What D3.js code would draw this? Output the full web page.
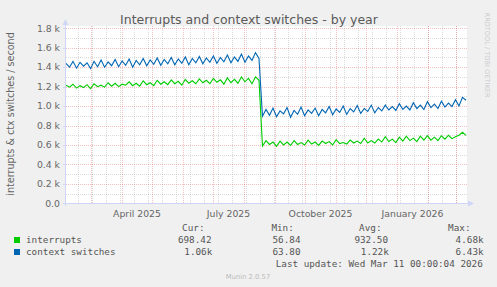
<!DOCTYPE html>
<html>
<head>
<meta charset="utf-8">
<script src="https://cdn.jsdelivr.net/npm/d3@7"></script>
<style>
  html, body { margin: 0; padding: 0; background: #f0f0f0; }
  svg { display: block; }
  text { font-family: "DejaVu Sans", sans-serif; }
  .mono { font-family: "DejaVu Sans Mono", monospace; }
</style>
</head>
<body>
<div id="vis"></div>
<script>
// time span of the year graph (400 days)
const startDate = new Date(Date.UTC(2025, 1, 4))
const endDate = new Date(Date.UTC(2026, 2, 11))

// samples, evenly spread over the span (about every 3.5 days)
const interrupts = [
  1215, 1195, 1225, 1185, 1210, 1190, 1220, 1180, 1230, 1200, 1215, 1195, 1240, 1205,
  1235, 1200, 1225, 1215, 1250, 1210, 1235, 1205, 1260, 1220, 1240, 1210, 1265, 1225,
  1250, 1220, 1270, 1230, 1255, 1215, 1275, 1235, 1260, 1230, 1280, 1240, 1265, 1230,
  1285, 1245, 1270, 1225, 1290, 1240, 1275, 1235, 1300, 1250, 1285, 1230, 1300, 1265,
  590, 645, 605, 630, 585, 640, 600, 630, 595, 645, 605, 625, 600, 650,
  610, 630, 595, 640, 615, 635, 600, 655, 615, 625, 610, 650, 620, 640,
  615, 670, 620, 645, 620, 660, 630, 685, 635, 660, 625, 680, 640, 690,
  645, 670, 635, 690, 650, 695, 650, 680, 645, 695, 660, 700, 665, 685, 700, 730, 698
]
const ctxSwitches = [
  1440, 1400, 1460, 1390, 1450, 1410, 1445, 1385, 1460, 1405, 1475, 1400, 1455, 1415,
  1480, 1405, 1465, 1420, 1485, 1400, 1470, 1425, 1490, 1415, 1475, 1430, 1495, 1420,
  1480, 1435, 1500, 1425, 1485, 1440, 1505, 1425, 1490, 1445, 1510, 1435, 1495, 1450,
  1515, 1440, 1500, 1455, 1525, 1445, 1505, 1460, 1535, 1450, 1515, 1470, 1550, 1490,
  895, 965, 905, 980, 890, 950, 920, 985, 885, 955, 915, 990, 900, 960,
  925, 980, 900, 965, 930, 995, 910, 970, 935, 1000, 915, 975, 940, 1005,
  925, 975, 945, 1010, 930, 985, 950, 1010, 960, 995, 955, 1025, 965, 1000,
  960, 1035, 975, 1010, 965, 1045, 985, 1020, 975, 1050, 990, 1030, 995, 1065, 1000, 1090, 1060
]

const yTicks = [0, 200, 400, 600, 800, 1000, 1200, 1400, 1600, 1800]
const yMinor = [100, 300, 500, 700, 900, 1100, 1300, 1500, 1700]
const xLabelMonths = [new Date(Date.UTC(2025, 3, 1)), new Date(Date.UTC(2025, 6, 1)),
                      new Date(Date.UTC(2025, 9, 1)), new Date(Date.UTC(2026, 0, 1))]
const xLabels = ['April 2025', 'July 2025', 'October 2025', 'January 2026']

const seriesNames = ['interrupts', 'context switches']
const seriesColors = ['#00cc00', '#0066b3']
const legendCur = ['698.42', '1.06k']
const legendMin = ['56.84', '63.80']
const legendAvg = ['932.50', '1.22k']
const legendMax = ['4.68k', '6.43k']

const W = 497, H = 287
const plot = {left: 66, right: 466, top: 26, bottom: 203}

const x = d3.scaleUtc([startDate, endDate], [plot.left, plot.right])
const y = d3.scaleLinear([0, 1800], [203.3, 28.3])

const svg = d3.select('#vis').append('svg')
    .attr('width', W)
    .attr('height', H)

svg.append('rect').attr('width', W).attr('height', H).attr('fill', '#f0f0f0')

// canvas
svg.append('rect')
    .attr('x', plot.left).attr('y', plot.top)
    .attr('width', plot.right - plot.left + 1).attr('height', plot.bottom - plot.top)
    .attr('fill', '#ffffff')

const px = v => Math.round(v) + 0.5

// minor grid
let grid = svg.append('g').attr('stroke-width', 1).attr('stroke-dasharray', '1,1')
grid.selectAll('.vmin')
    .data(d3.utcDay.range(new Date(Date.UTC(2025, 1, 16)), endDate, 14))
    .enter().append('line')
        .attr('x1', d => px(x(d))).attr('x2', d => px(x(d)))
        .attr('y1', plot.top).attr('y2', plot.bottom)
        .attr('stroke', '#8f8f8f').attr('stroke-opacity', 0.32)
grid.selectAll('.hmin')
    .data(yMinor)
    .enter().append('line')
        .attr('x1', plot.left).attr('x2', plot.right + 1)
        .attr('y1', d => px(y(d))).attr('y2', d => px(y(d)))
        .attr('stroke', '#8f8f8f').attr('stroke-opacity', 0.32)

// major grid
grid.selectAll('.vmaj')
    .data(d3.utcMonth.range(startDate, endDate))
    .enter().append('line')
        .attr('x1', d => px(x(d))).attr('x2', d => px(x(d)))
        .attr('y1', plot.top).attr('y2', plot.bottom)
        .attr('stroke', '#e85050').attr('stroke-opacity', 0.36)
grid.selectAll('.hmaj')
    .data(yTicks.slice(1))
    .enter().append('line')
        .attr('x1', plot.left).attr('x2', plot.right + 1)
        .attr('y1', d => px(y(d))).attr('y2', d => px(y(d)))
        .attr('stroke', '#e85050').attr('stroke-opacity', 0.36)

// series
const step = (endDate - startDate) / (interrupts.length - 1)
const line = d3.line()
    .x((d, i) => x(new Date(+startDate + i * step)))
    .y(d => y(d))

;[interrupts, ctxSwitches].forEach((s, k) => {
    svg.append('path')
        .datum(s)
        .attr('d', line)
        .attr('fill', 'none')
        .attr('stroke', seriesColors[k])
        .attr('stroke-width', 1.1)
})

// axes with arrows
const axisColor = '#cfd6f8'
svg.append('line')
    .attr('x1', plot.left - 0.5).attr('x2', plot.left - 0.5)
    .attr('y1', plot.bottom + 3).attr('y2', 22)
    .attr('stroke', axisColor)
svg.append('line')
    .attr('x1', plot.left - 3).attr('x2', 470)
    .attr('y1', plot.bottom + 0.5).attr('y2', plot.bottom + 0.5)
    .attr('stroke', axisColor)
svg.append('path')
    .attr('d', `M${plot.left - 3.5},25 L${plot.left - 0.5},19 L${plot.left + 2.5},25 Z`)
    .attr('fill', axisColor)
svg.append('path')
    .attr('d', `M468,${plot.bottom - 2.5} L474,${plot.bottom + 0.5} L468,${plot.bottom + 3.5} Z`)
    .attr('fill', axisColor)

// y tick marks and labels
svg.selectAll('.ytick')
    .data(yTicks)
    .enter().append('line')
        .attr('x1', plot.left - 3).attr('x2', plot.left)
        .attr('y1', d => px(y(d))).attr('y2', d => px(y(d)))
        .attr('stroke', axisColor)
svg.selectAll('.ylab')
    .data(yTicks)
    .enter().append('text')
        .attr('x', 60).attr('y', d => y(d) + 3.3)
        .attr('text-anchor', 'end')
        .attr('font-size', 9.3)
        .attr('fill', '#666')
        .text(d => d === 0 ? '0.0' : (d / 1000).toFixed(1) + ' k')

// x tick labels (centred in their month)
svg.selectAll('.xlab')
    .data(xLabelMonths)
    .enter().append('text')
        .attr('x', d => (x(d) + x(d3.utcMonth.offset(d, 1))) / 2)
        .attr('y', 216.5)
        .attr('text-anchor', 'middle')
        .attr('font-size', 9.3)
        .attr('fill', '#666')
        .text((d, i) => xLabels[i])

// title
svg.append('text')
    .attr('x', 249).attr('y', 23.5)
    .attr('text-anchor', 'middle')
    .attr('font-size', 12.5)
    .attr('fill', '#5a5a5a')
    .text('Interrupts and context switches - by year')

// vertical unit label
svg.append('text')
    .attr('transform', 'translate(13.5,114) rotate(-90)')
    .attr('text-anchor', 'middle')
    .attr('font-size', 9.6)
    .attr('fill', '#666')
    .text('interrupts & ctx switches / second')

// watermark
svg.append('text')
    .attr('transform', 'translate(484.5,55) rotate(90)')
    .attr('text-anchor', 'middle')
    .attr('font-size', 6.6)
    .attr('fill', '#ccc')
    .text('RRDTOOL / TOBI OETIKER')

// legend
let legend = svg.append('g').attr('class', 'mono').attr('font-size', 9.3).attr('fill', '#555')
const head = [['Cur:', 204.5], ['Min:', 293.8], ['Avg:', 381.5], ['Max:', 470.5]]
head.forEach(h => {
    legend.append('text').attr('class', 'mono').attr('x', h[1]).attr('y', 230.5)
        .attr('text-anchor', 'end').text(h[0])
})
const rowY = [243, 255]
seriesNames.forEach((name, i) => {
    legend.append('rect')
        .attr('x', 14).attr('y', rowY[i] - 6).attr('width', 6).attr('height', 6)
        .attr('fill', seriesColors[i])
    legend.append('text').attr('class', 'mono').attr('x', 26).attr('y', rowY[i]).text(name)
    const cols = [[legendCur[i], 211.5], [legendMin[i], 300.5], [legendAvg[i], 388], [legendMax[i], 482.8]]
    cols.forEach(c => {
        legend.append('text').attr('class', 'mono')
            .attr('x', c[1] + (c[0].endsWith('k') ? 0.8 : 0)).attr('y', rowY[i])
            .attr('text-anchor', 'end').text(c[0])
    })
})
legend.append('text').attr('class', 'mono').attr('x', 482.8).attr('y', 267)
    .attr('text-anchor', 'end').text('Last update: Wed Mar 11 00:00:04 2026')

svg.append('text')
    .attr('x', 248).attr('y', 278.5)
    .attr('text-anchor', 'middle')
    .attr('font-size', 6.8)
    .attr('fill', '#bbb')
    .text('Munin 2.0.57')
</script>
</body>
</html>
